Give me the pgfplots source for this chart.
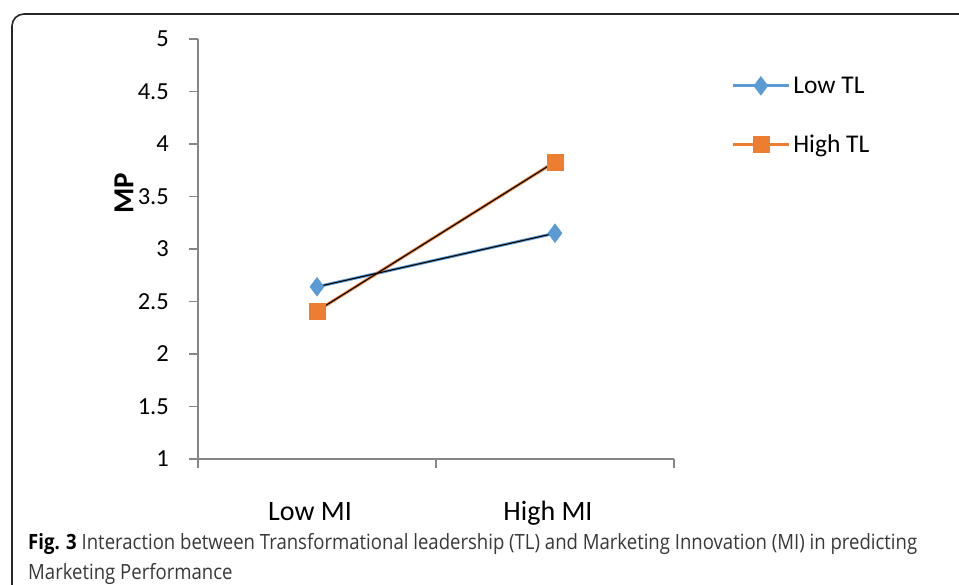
\documentclass[border=0pt]{standalone}
\usepackage{pgfplots}
\pgfplotsset{compat=1.18}
\usepackage{fontspec}
\setmainfont{Carlito}
\newfontfamily\capfont{Open Sans}
\usepackage{graphicx}
\definecolor{tlblue}{HTML}{5B9BD5}
\definecolor{tlorange}{HTML}{ED7D31}
\definecolor{axgray}{HTML}{868686}
\newsavebox\capA
\begin{document}
\sbox\capA{\capfont\fontsize{21}{30}\selectfont\textbf{Fig. 3} \color{black!78}Interaction between Transformational leadership (TL) and Marketing Innovation (MI) in predicting}%
\pgfmathsetmacro\capscale{889/\the\wd\capA}%
\begin{tikzpicture}[x=1pt,y=1pt]
\useasboundingbox (0,0) rectangle (959,585);
\draw[line width=1.6pt, black!85, rounded corners=12pt] (12,-2) -- (12,571) -- (975,571);
\begin{axis}[
  at={(198pt,126pt)}, anchor=south west,
  scale only axis, width=476pt, height=420pt,
  xmin=0, xmax=2, ymin=1, ymax=5,
  axis lines=left, axis line style={-, axgray, line width=1.5pt},
  xtick={0,1,2}, xticklabels={},
  ytick={1,1.5,2,2.5,3,3.5,4,4.5,5},
  tick align=outside, major tick length=9pt,
  tick style={axgray, line width=1.5pt},
  yticklabel style={font=\fontsize{24.5}{29}\selectfont, inner sep=0pt, xshift=-20pt},
  /pgf/number format/assume math mode=true,
  clip=false,
  legend style={draw=none, fill=none, at={(axis description cs:1.12,0.818)}, anchor=west,
    font=\fontsize{25.5}{30}\selectfont, row sep=34pt, inner sep=0pt,
    nodes={inner sep=3pt}},
  legend cell align=left,
  legend image code/.code={\draw[mark repeat=2,mark phase=2] plot coordinates {(0pt,0pt) (28pt,0pt) (56pt,0pt)};},
]
\addplot[tlblue, line width=3pt, mark=diamond*, mark size=9.5pt,
  mark options={solid, line width=0.3pt, fill=tlblue, draw=tlblue}]
  coordinates {(0.5,2.64) (1.5,3.15)};
\addlegendentry{Low TL}
\addplot[tlorange, line width=3pt, mark=square*, mark size=8pt,
  mark options={solid, line width=0.3pt, fill=tlorange, draw=tlorange}]
  coordinates {(0.5,2.41) (1.5,3.83)};
\addlegendentry{High TL}
\addplot[black, line width=1.1pt, forget plot] coordinates {(0.5,2.64) (1.5,3.15)};
\addplot[black, line width=1.1pt, forget plot] coordinates {(0.5,2.41) (1.5,3.83)};
\node[anchor=base, font=\fontsize{28}{32}\selectfont, xshift=-7pt, yshift=-62pt] at (axis cs:0.5,1) {Low MI};
\node[anchor=base, font=\fontsize{28}{32}\selectfont, xshift=-7pt, yshift=-62pt] at (axis cs:1.5,1) {High MI};
\end{axis}
\node[rotate=90, font=\bfseries\fontsize{29}{32}\selectfont, inner sep=0pt] at (124,392) {MP};
\node[anchor=base west, inner sep=0pt] at (28,35) {\scalebox{\capscale}[1]{\usebox\capA}};
\node[anchor=base west, inner sep=0pt] at (28,5) {\scalebox{\capscale}[1]{\capfont\fontsize{21}{30}\selectfont\color{black!78}Marketing Performance}};
\end{tikzpicture}
\end{document}
